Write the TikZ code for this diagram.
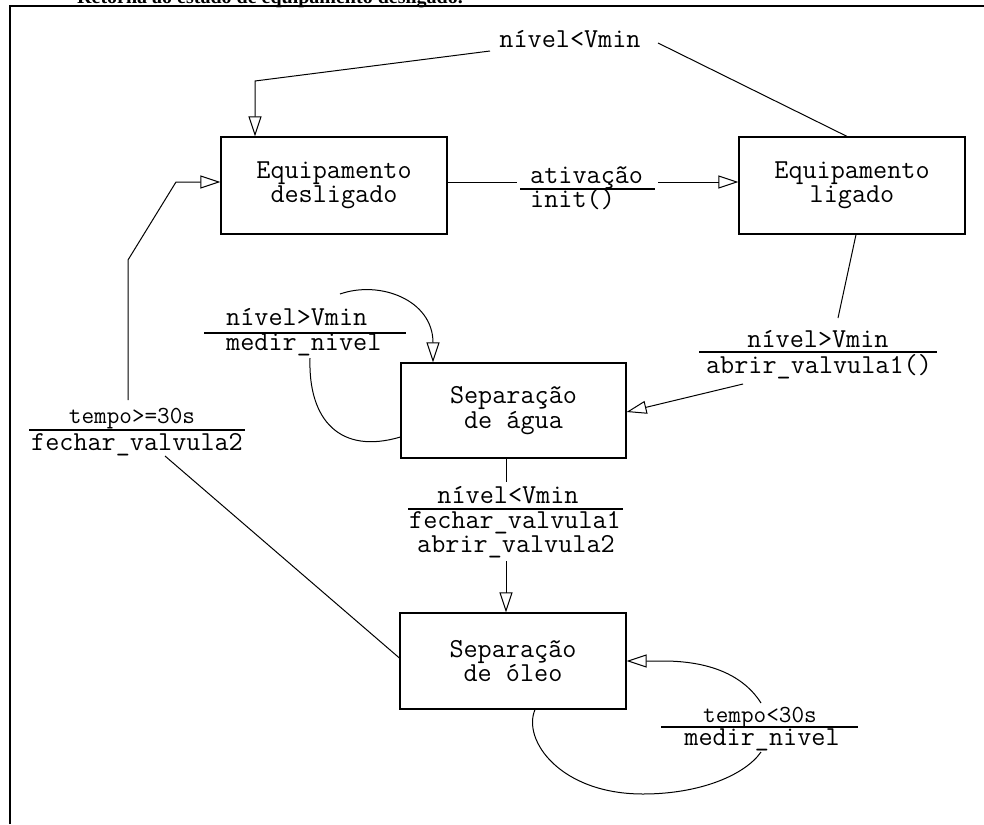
\documentclass[tikz,border=0pt]{standalone}
\usepackage{fontspec}
\newfontfamily\topserif{Liberation Serif}
\usetikzlibrary{arrows.meta}
\tikzset{
  state/.style={draw, line width=1.2pt, minimum width=226pt, minimum height=97pt, inner sep=0pt,
    align=center, font=\ttfamily\fontsize{27.4}{24.5}\selectfont},
  lbl/.style={inner sep=0pt, anchor=base, font=\ttfamily\fontsize{27.4}{24.5}\selectfont},
  slbl/.style={inner sep=0pt, anchor=base, font=\ttfamily\fontsize{24.5}{22}\selectfont},
  conn/.style={line width=1pt},
  openarrow/.style={line width=1pt, -{Triangle[open, length=20pt, width=13pt]}},
  fracline/.style={line width=1.1pt}
}
\begin{document}
\begin{tikzpicture}[x=1pt,y=-1pt]
\useasboundingbox (0,0) rectangle (984,824);
\fill[white] (0,0) rectangle (984,824);
% caption above the frame, cut off by the page edge as in the reference
\node[inner sep=0pt, anchor=base east, font=\topserif\bfseries\fontsize{20}{22}\selectfont] (cap) at (463,3.5) {Retorna ao estado de equipamento desligado.};
% frame
\draw[line width=2pt] (9.5,824) -- (9.5,5.8) -- (984,5.8);

% states
\node[state] (b1) at (334,185.5) {Equipamento\\desligado};
\node[state] (b2) at (852,185.5) {Equipamento\\ligado};
\node[state, minimum width=225pt, minimum height=95pt] (b3) at (513.5,410.5) {Separação\\de água};
\node[state, minimum height=96pt] (b4) at (513,661) {Separação\\de óleo};

% labels
\node[lbl] (l1) at (570,48) {nível<Vmin};

\node[lbl, anchor=base west] (l2a) at (530,183) {ativação};
\node[lbl, anchor=base west] (l2b) at (530,207) {init()};
\draw[fracline] (520,189) -- (655,189);

\node[lbl] (l3a) at (818,347) {nível>Vmin};
\node[lbl] (l3b) at (819,373) {abrir\_valvula1()};
\draw[fracline] (699,352) -- (937,352);

\node[lbl, anchor=base west] (l4a) at (226,325) {nível>Vmin};
\node[lbl, anchor=base west] (l4b) at (226,350) {medir\_nivel};
\draw[fracline] (204,333) -- (406,333);

\node[lbl] (l5a) at (508,503) {nível<Vmin};
\node[lbl] (l5b) at (515,528) {fechar\_valvula1};
\node[lbl] (l5c) at (516,552) {abrir\_valvula2};
\draw[fracline] (408,509) -- (623,509);

\node[slbl] (l6a) at (132,423) {tempo>=30s};
\node[lbl] (l6b) at (137,450) {fechar\_valvula2};
\draw[fracline] (29,430) -- (245,430);

\node[slbl] (l7a) at (760,722) {tempo<30s};
\node[lbl] (l7b) at (762,745) {medir\_nivel};
\draw[fracline] (661,727) -- (858,727);

% connector coordinates
\coordinate (e1a) at (658,43);
\coordinate (e1b) at (490,51);
\coordinate (e1c) at (255,81);
\coordinate (e2a) at (517,182);
\coordinate (e2b) at (658,182);
\coordinate (e3a) at (838,318);
\coordinate (e3b) at (743,384);
\coordinate (e4a) at (310,358);
\coordinate (e4b) at (340,294);
\coordinate (e5a) at (506,482);
\coordinate (e5b) at (506,561);
\coordinate (e6a) at (761,752);
\coordinate (e6b) at (761,703);
\coordinate (e6c) at (663,661);
\coordinate (e7a) at (165,456);
\coordinate (e7b) at (128,400);
\coordinate (e7c) at (128,260);
\coordinate (e7d) at (176,182);

% Equipamento ligado -> Equipamento desligado
\draw[conn] ([xshift=-5pt]b2.north) -- (e1a);
\draw[openarrow] (e1b) -- (e1c) -- (e1c |- b1.north);

% Equipamento desligado -> Equipamento ligado
\draw[conn] ([yshift=3.5pt]b1.east) -- (e2a);
\draw[openarrow] (e2b) -- ([yshift=3.5pt]b2.west);

% Equipamento ligado -> Separacao de agua
\draw[conn] ([xshift=4pt]b2.south) -- (e3a);
\draw[openarrow] (e3b) -- ([yshift=-1.5pt]b3.east);

% self loop on Separacao de agua
\draw[conn] ([yshift=-26.5pt]b3.west) .. controls (340,455) and (308,420) .. (e4a);
\draw[openarrow] (e4b) .. controls (380,280) and (433,300) .. ([xshift=-80.5pt]b3.north);

% Separacao de agua -> Separacao de oleo
\draw[conn] ([xshift=-7.5pt]b3.south) -- (e5a);
\draw[openarrow] (e5b) -- ([xshift=-7pt]b4.north);

% self loop on Separacao de oleo
\draw[conn] ([xshift=22pt]b4.south) .. controls (522,740) and (560,794) .. (643,794)
   .. controls (700,794) and (745,775) .. (e6a);
\draw[openarrow] (e6b) .. controls (740,670) and (700,661) .. (e6c) -- (b4.east);

% Separacao de oleo -> Equipamento desligado
\draw[conn] ([yshift=3pt]b4.west) -- (e7a);
\draw[openarrow] (e7b) -- (e7c) -- (e7d) -- ([yshift=3.5pt]b1.west);
\end{tikzpicture}
\end{document}
